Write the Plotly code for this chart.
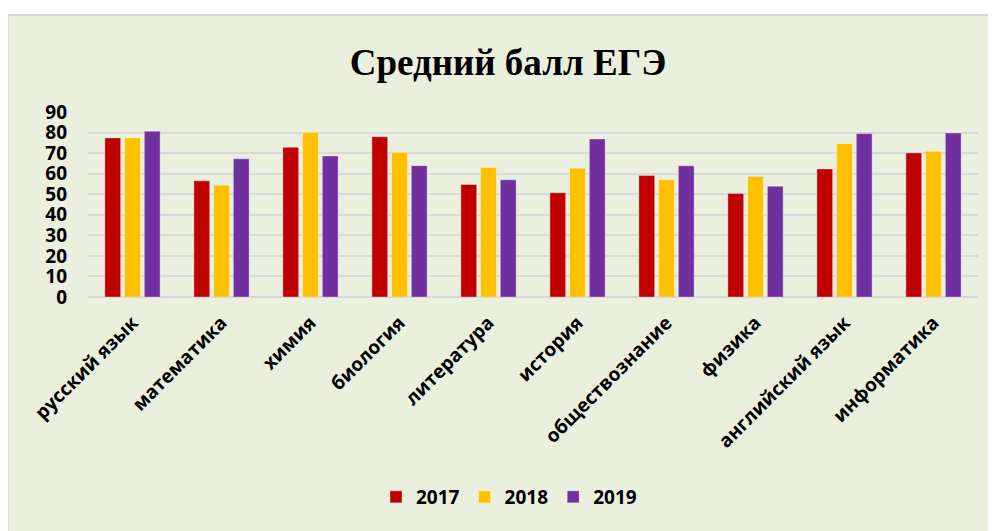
import plotly.graph_objects as go

subjects = ["русский язык", "математика", "химия", "биология", "литература",
            "история", "обществознание", "физика", "английский язык", "информатика"]
years = ["2017", "2018", "2019"]
v2017 = [77.4, 56.5, 72.8, 78.0, 54.7, 50.7, 59.1, 50.3, 62.3, 70.1]
v2018 = [77.4, 54.4, 80.0, 70.3, 63.0, 62.6, 57.1, 58.6, 74.6, 70.9]
v2019 = [80.6, 67.2, 68.6, 63.9, 57.0, 76.9, 63.8, 53.9, 79.5, 79.8]
colors = ["#C00000", "#FFC000", "#7030A0"]
y_ticks = [0, 10, 20, 30, 40, 50, 60, 70, 80, 90]

# page body has an 8px margin; work in reference-pixel coordinates and shift
OFF = 8
W, H = 996 - OFF, 531 - OFF
L, R, T, B = 88 - OFF, 18, 112 - OFF, 531 - 297
pw, ph = W - L - R, H - T - B

def px_x(p):
    return (p - OFF - L) / pw

def px_y(p):
    return (H - B - (p - OFF)) / ph

fig = go.Figure()
for name, vals, col in zip(years, [v2017, v2018, v2019], colors):
    fig.add_trace(go.Bar(
        name=name, x=subjects, y=vals,
        marker=dict(color=col, line=dict(color="rgba(255,255,255,0.35)", width=1)),
    ))

fig.add_shape(type="rect", xref="paper", yref="paper", layer="below",
              x0=px_x(8), x1=px_x(1010), y0=px_y(540), y1=px_y(15),
              fillcolor="#EBEFDE", line=dict(color="#D9D9D9", width=2))

fig.update_layout(
    width=W, height=H,
    margin=dict(l=L, r=R, t=T, b=B),
    paper_bgcolor="white", plot_bgcolor="rgba(0,0,0,0)",
    barmode="group", bargap=0.335, bargroupgap=0.2,
    title=dict(text="<b>Средний балл ЕГЭ</b>", x=(508 - OFF) / W, xref="container", xanchor="center",
               y=1 - (62 - OFF) / H, yref="container", yanchor="middle",
               font=dict(family="Liberation Serif", size=37, color="#000000")),
    font=dict(family="Open Sans", color="#000000"),
    showlegend=True,
    legend=dict(orientation="h", x=px_x(509), xanchor="center", y=px_y(497), yanchor="middle",
                font=dict(family="Open Sans", size=19, color="#000000", weight="bold"),
                bgcolor="rgba(0,0,0,0)", itemwidth=30, traceorder="normal"),
    yaxis=dict(range=[0, 90], tickvals=y_ticks, showgrid=True, gridcolor="#D9D9D9", gridwidth=1.5,
               zeroline=True, zerolinecolor="#D9D9D9", zerolinewidth=1.5,
               showline=False, ticks="", ticklabelstandoff=20,
               tickfont=dict(family="Open Sans", size=19, color="#000000", weight="bold")),
    xaxis=dict(tickangle=-45, showline=False, ticks="", showgrid=False, ticklabelstandoff=10,
               tickfont=dict(family="Open Sans", size=19, color="#000000", weight="bold")),
)

fig.write_html("out.html")
